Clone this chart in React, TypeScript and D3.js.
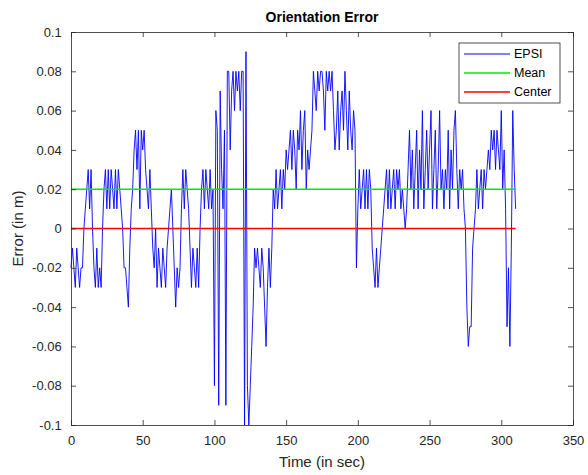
import React, { useEffect, useRef } from 'react';
import * as d3 from 'd3';

// orientation error, one sample per second (t = 0..310)
const epsi = [
  -0.02, -0.01, -0.02, -0.03, -0.01, -0.02, -0.03, -0.02, -0.02, 0.0,
  0.01, 0.02, 0.03, 0.01, 0.03, 0.0, -0.02, -0.03, -0.01, -0.03,
  -0.02, -0.03, 0.0, 0.02, 0.03, 0.01, 0.03, 0.01, 0.03, 0.02,
  0.01, 0.03, 0.01, 0.03, 0.02, 0.01, 0.0, -0.02, -0.02, -0.03,
  -0.04, -0.01, 0.01, 0.02, 0.04, 0.05, 0.03, 0.05, 0.01, 0.05,
  0.04, 0.05, 0.03, 0.02, 0.01, 0.03, 0.01, -0.01, -0.02, 0.0,
  -0.03, -0.01, -0.02, -0.03, -0.01, -0.02, -0.03, -0.01, 0.0, 0.01,
  0.02, 0.0, -0.02, -0.04, -0.02, -0.03, -0.02, 0.01, 0.03, 0.01,
  0.03, 0.02, 0.01, -0.01, -0.03, -0.01, -0.02, -0.03, -0.01, -0.03,
  0.0, 0.02, 0.03, 0.01, 0.03, 0.02, 0.01, 0.03, 0.01, 0.02,
  -0.08, 0.06, 0.05, -0.09, 0.07, 0.03, 0.01, 0.05, -0.09, 0.08,
  0.08, 0.04, 0.07, 0.08, 0.06, 0.08, 0.07, 0.08, 0.06, 0.08,
  0.08, -0.1, 0.09, -0.08, -0.1, -0.08, -0.06, -0.04, -0.01, -0.02,
  -0.01, -0.02, -0.03, -0.01, -0.02, -0.04, -0.06, -0.03, -0.01, -0.03,
  -0.01, 0.02, 0.01, 0.03, 0.01, 0.02, 0.03, 0.01, 0.03, 0.02,
  0.04, 0.03, 0.04, 0.05, 0.03, 0.05, 0.04, 0.02, 0.05, 0.04,
  0.06, 0.03, 0.05, 0.06, 0.02, 0.04, 0.03, 0.04, 0.05, 0.08,
  0.07, 0.06, 0.08, 0.07, 0.08, 0.08, 0.07, 0.05, 0.08, 0.07,
  0.08, 0.07, 0.08, 0.06, 0.04, 0.05, 0.07, 0.04, 0.06, 0.07,
  0.05, 0.08, 0.06, 0.04, 0.07, 0.05, 0.04, 0.06, 0.05, -0.02,
  0.01, 0.03, 0.01, 0.02, 0.03, 0.01, 0.03, 0.01, 0.03, 0.02,
  -0.01, -0.02, -0.03, -0.01, -0.03, -0.02, -0.01, 0.0, 0.01, 0.02,
  0.03, 0.01, 0.03, 0.01, 0.02, 0.03, 0.01, 0.03, 0.02, 0.03,
  0.01, 0.02, 0.01, 0.0, 0.01, 0.03, 0.05, 0.02, 0.04, 0.01,
  0.03, 0.05, 0.01, 0.04, 0.02, 0.06, 0.01, 0.03, 0.05, 0.02,
  0.04, 0.06, 0.01, 0.03, 0.05, 0.01, 0.03, 0.06, 0.02, 0.03,
  0.01, 0.03, 0.02, 0.05, 0.01, 0.04, 0.02, 0.05, 0.06, 0.03,
  0.01, 0.03, 0.02, 0.03, 0.01, 0.0, -0.04, -0.06, -0.05, -0.05,
  -0.01, 0.0, 0.01, 0.03, 0.01, 0.02, 0.03, 0.01, 0.03, 0.02,
  0.03, 0.04, 0.03, 0.05, 0.04, 0.05, 0.03, 0.05, 0.04, 0.03,
  0.06, 0.02, 0.04, 0.01, -0.05, -0.02, -0.06, -0.01, 0.06, 0.03,
  0.01,
];
const meanValue = 0.02;
const centerValue = 0;
const xTicks = [0, 50, 100, 150, 200, 250, 300, 350];
const yTicks = [-0.1, -0.08, -0.06, -0.04, -0.02, 0, 0.02, 0.04, 0.06, 0.08, 0.1];
const legendNames = ['EPSI', 'Mean', 'Center'];
const legendColors = ['#0000ff', '#00ee00', '#ff0000'];

const W = 588, H = 475;
const margin = { top: 32, right: 15, bottom: 50, left: 71 };
const axisColor = '#262626';
const font = 'Liberation Sans, Arial, sans-serif';

export default function App() {
  const ref = useRef<SVGSVGElement>(null);

  useEffect(() => {
    document.body.style.margin = '0';
    const svg = d3.select(ref.current);
    svg.selectAll('*').remove();

    const x = d3.scaleLinear().domain([0, 350]).range([margin.left, W - margin.right]);
    const y = d3.scaleLinear().domain([-0.1, 0.1]).range([H - margin.bottom, margin.top]);
    const tEnd = epsi.length - 1;

    svg.append('rect').attr('width', W).attr('height', H).attr('fill', '#fff');

    // data lines
    const line = d3.line<number>().x((d, i) => x(i)).y(d => y(d));
    svg.append('path').datum(epsi).attr('d', line)
      .attr('fill', 'none').attr('stroke', legendColors[0]).attr('stroke-width', 0.9);
    svg.append('line')
      .attr('x1', x(0)).attr('x2', x(tEnd)).attr('y1', y(meanValue)).attr('y2', y(meanValue))
      .attr('stroke', legendColors[1]).attr('stroke-width', 1.6);
    svg.append('line')
      .attr('x1', x(0)).attr('x2', x(tEnd)).attr('y1', y(centerValue)).attr('y2', y(centerValue))
      .attr('stroke', legendColors[2]).attr('stroke-width', 1.6);

    // box + inward ticks on all four sides
    const [x0, x1] = x.range();
    const [y0, y1] = y.range();
    const fmtY = (d: number) => d === 0 ? '0' : String(+d.toFixed(2));
    const bottom = d3.axisBottom(x).tickValues(xTicks).tickSizeInner(-5).tickSizeOuter(0).tickPadding(8);
    const top = d3.axisTop(x).tickValues(xTicks).tickSizeInner(-5).tickSizeOuter(0).tickFormat(() => '');
    const left = d3.axisLeft(y).tickValues(yTicks).tickSizeInner(-5).tickSizeOuter(0).tickPadding(8).tickFormat(fmtY as any);
    const right = d3.axisRight(y).tickValues(yTicks).tickSizeInner(-5).tickSizeOuter(0).tickFormat(() => '');

    const gb = svg.append('g').attr('transform', `translate(0,${y0})`).call(bottom);
    svg.append('g').attr('transform', `translate(0,${y1})`).call(top);
    const gl = svg.append('g').attr('transform', `translate(${x0},0)`).call(left);
    svg.append('g').attr('transform', `translate(${x1},0)`).call(right);

    svg.selectAll('.domain').attr('stroke', axisColor).attr('stroke-width', 0.8);
    svg.selectAll('.tick line').attr('stroke', axisColor).attr('stroke-width', 0.8);
    svg.selectAll('.tick text').attr('fill', axisColor).style('font-family', font).style('font-size', '13px');
    gb.selectAll('.tick text').attr('dy', '0.9em');
    gl.selectAll('.tick text').attr('dx', '-0.1em');

    // titles
    svg.append('text').attr('x', (x0 + x1) / 2).attr('y', 22).attr('text-anchor', 'middle')
      .style('font-family', font).style('font-size', '14px').style('font-weight', 'bold')
      .attr('fill', '#000').text('Orientation Error');
    svg.append('text').attr('x', (x0 + x1) / 2).attr('y', 467).attr('text-anchor', 'middle')
      .style('font-family', font).style('font-size', '15px').attr('fill', axisColor).text('Time (in sec)');
    svg.append('text').attr('transform', `translate(23,${(y0 + y1) / 2}) rotate(-90)`).attr('text-anchor', 'middle')
      .style('font-family', font).style('font-size', '15px').attr('fill', axisColor).text('Error (in m)');

    // legend
    const lg = svg.append('g').attr('transform', 'translate(459,43)');
    lg.append('rect').attr('width', 101).attr('height', 60)
      .attr('fill', '#fff').attr('stroke', axisColor).attr('stroke-width', 0.8);
    legendNames.forEach((name, i) => {
      const ly = 11 + i * 19;
      lg.append('line').attr('x1', 5).attr('x2', 51).attr('y1', ly).attr('y2', ly)
        .attr('stroke', legendColors[i]).attr('stroke-width', i === 0 ? 1 : 1.6);
      lg.append('text').attr('x', 55).attr('y', ly).attr('dy', '0.35em')
        .style('font-family', font).style('font-size', '12.5px').attr('fill', '#000').text(name);
    });
  }, []);

  return <svg ref={ref} width={W} height={H} style={{ display: 'block' }} />;
}
